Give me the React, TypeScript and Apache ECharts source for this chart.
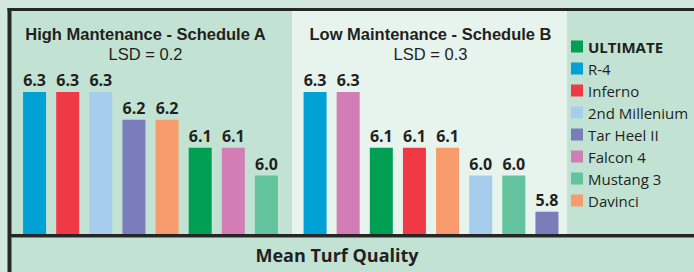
import React, { useEffect, useRef } from "react";
import * as echarts from "echarts";

const varieties = ["ULTIMATE", "R-4", "Inferno", "2nd Millenium", "Tar Heel II", "Falcon 4", "Mustang 3", "Davinci"];
const varietyColors = ["#009f54", "#00a1d4", "#ef3a45", "#a6cdeb", "#7b7cba", "#d27db5", "#62c39c", "#f89b6c"];

const catsA = ["R-4", "Inferno", "2nd Millenium", "Tar Heel II", "Davinci", "ULTIMATE", "Falcon 4", "Mustang 3"];
const valuesA = [6.3, 6.3, 6.3, 6.2, 6.2, 6.1, 6.1, 6.0];
const labelsA = ["6.3", "6.3", "6.3", "6.2", "6.2", "6.1", "6.1", "6.0"];

const catsB = ["R-4", "Falcon 4", "ULTIMATE", "Inferno", "Davinci", "2nd Millenium", "Mustang 3", "Tar Heel II"];
const valuesB = [6.3, 6.3, 6.1, 6.1, 6.1, 6.0, 6.0, 5.87];
const labelsB = ["6.3", "6.3", "6.1", "6.1", "6.1", "6.0", "6.0", "5.8"];

const titleA = "High Mantenance - Schedule A";
const lsdA = "LSD = 0.2";
const titleB = "Low Maintenance - Schedule B";
const lsdB = "LSD = 0.3";
const bottomTitle = "Mean Turf Quality";

const FONT = "'Open Sans', sans-serif";
const TFONT = "'Liberation Sans', sans-serif";
const INK = "#231f20";

function buildSeries(cats: string[], values: number[], labels: string[], axisIndex: number) {
  return varieties.map((v, vi) => ({
    type: "bar",
    name: v,
    xAxisIndex: axisIndex,
    yAxisIndex: axisIndex,
    barWidth: 23,
    barGap: "-100%",
    itemStyle: { color: varietyColors[vi] },
    label: {
      show: true,
      position: "top",
      distance: 4,
      fontFamily: FONT,
      fontWeight: "bold",
      fontSize: 16,
      color: INK,
      formatter: (p: any) => labels[p.dataIndex],
    },
    data: cats.map((c, i) => (c === v ? values[i] : "-")),
  }));
}

function panelTitle(x: number, title: string, lsd: string) {
  return [
    {
      type: "text", x, y: 34,
      style: { text: title, align: "center", verticalAlign: "middle", font: `bold 16.5px ${TFONT}`, fill: INK },
    },
    {
      type: "text", x, y: 53.5,
      style: { text: lsd, align: "center", verticalAlign: "middle", font: `16.5px ${TFONT}`, fill: INK },
    },
  ];
}

export default function App() {
  const ref = useRef<HTMLDivElement>(null);
  useEffect(() => {
    if (!ref.current) return;
    const chart = echarts.init(ref.current, undefined, { renderer: "svg" });
    const yAxisBase = { type: "value", min: 5.79, max: 6.3, show: false, splitLine: { show: false } };
    const xAxisBase = { type: "category", show: false, axisTick: { show: false } };
    chart.setOption({
      animation: false,
      backgroundColor: "#d3e8dc",
      grid: [
        { left: 18, width: 265, top: 92, height: 142 },
        { left: 298.5, width: 265, top: 92, height: 142 },
      ],
      xAxis: [
        { ...xAxisBase, gridIndex: 0, data: catsA },
        { ...xAxisBase, gridIndex: 1, data: catsB },
      ],
      yAxis: [
        { ...yAxisBase, gridIndex: 0 },
        { ...yAxisBase, gridIndex: 1 },
      ],
      legend: {
        orient: "vertical",
        left: 566,
        top: 39,
        padding: [0, 0, 0, 5],
        itemWidth: 12,
        itemHeight: 12,
        itemGap: 7,
        icon: "rect",
        selectedMode: false,
        data: varieties,
        formatter: (n: string) => (n === "ULTIMATE" ? `{b|${n}}` : `{n|${n}}`),
        textStyle: {
          fontFamily: FONT,
          fontSize: 15,
          color: INK,
          rich: {
            b: { fontFamily: FONT, fontSize: 15, fontWeight: "bold", color: INK },
            n: { fontFamily: FONT, fontSize: 15, color: INK },
          },
        },
      },
      graphic: [
        { type: "rect", z: -10, shape: { x: 11.5, y: 11, width: 700, height: 270 }, style: { fill: "#c2e3d3" } },
        { type: "rect", z: -9, shape: { x: 292, y: 11, width: 275, height: 224 }, style: { fill: "#e6f4ed" } },
        { type: "rect", z: -8, shape: { x: 7.5, y: 8, width: 700, height: 3 }, style: { fill: "#262626" } },
        { type: "rect", z: -8, shape: { x: 7.5, y: 8, width: 4, height: 270 }, style: { fill: "#262626" } },
        { type: "rect", z: 10, shape: { x: 11, y: 234, width: 700, height: 3 }, style: { fill: "#262626" } },
        { type: "rect", z: 10, shape: { x: 11, y: 237, width: 700, height: 1 }, style: { fill: "#7a8a82" } },
        ...panelTitle(145.5, titleA, lsdA),
        ...panelTitle(430.5, titleB, lsdB),
        {
          type: "text", x: 337, y: 255,
          style: { text: bottomTitle, align: "center", verticalAlign: "middle", font: `bold 18px ${FONT}`, fill: INK },
        },
      ],
      series: [...buildSeries(catsA, valuesA, labelsA, 0), ...buildSeries(catsB, valuesB, labelsB, 1)],
    });
    return () => chart.dispose();
  }, []);
  return <div ref={ref} style={{ position: "absolute", left: 0, top: 0, width: 694, height: 272 }} />;
}
